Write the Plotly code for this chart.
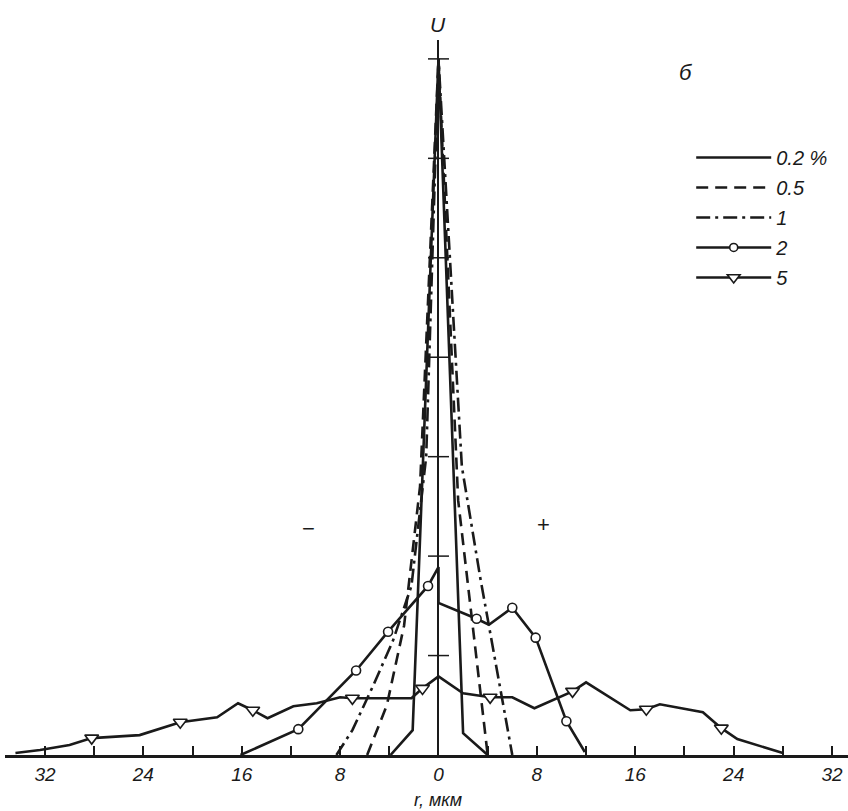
import plotly.graph_objects as go

# ---------------- data ----------------
r_02 = [-3.9, -2.1, 0.0, 2.0, 4.0]
u_02 = [0.0, 0.25, 7.0, 0.22, 0.0]

r_05 = [-5.8, -4.2, -2.8, -1.5, 0.0, 1.6, 4.0]
u_05 = [0.0, 0.5, 1.3, 2.7, 7.0, 2.56, 0.0]

r_1 = [-8.3, -7.0, -5.3, -3.7, -2.2, -1.0, 0.0, 0.9, 1.9, 3.4, 6.0]
u_1 = [0.0, 0.25, 0.7, 1.15, 1.7, 3.0, 7.0, 5.0, 2.9, 1.78, 0.0]

r_2 = [-16.1, -11.4, -6.7, -4.1, -0.85, 0.0, 0.0, 3.1, 4.1, 6.0, 7.9, 10.4, 11.9]
u_2 = [0.0, 0.26, 0.85, 1.24, 1.70, 1.89, 1.53, 1.37, 1.31, 1.48, 1.18, 0.34, 0.03]
mark_2 = [0, 1, 1, 1, 1, 0, 0, 1, 0, 1, 1, 1, 0]

r_5 = [-34.4, -32.4, -30.0, -28.2, -24.3, -21.0, -18.0, -16.3, -15.1, -13.9, -11.8,
       -9.9, -8.0, -7.0, -2.2, -1.3, 0.0, 2.0, 4.2, 6.0, 7.8, 10.9, 12.0, 15.6, 16.9,
       18.0, 21.5, 23.0, 24.3, 28.0]
u_5 = [0.02, 0.05, 0.10, 0.17, 0.20, 0.33, 0.38, 0.52, 0.45, 0.37, 0.49,
       0.52, 0.58, 0.57, 0.57, 0.67, 0.79, 0.62, 0.58, 0.58, 0.47, 0.64, 0.73, 0.45, 0.46,
       0.51, 0.43, 0.27, 0.16, 0.02]
mark_5 = [0, 0, 0, 1, 0, 1, 0, 0, 1, 0, 0,
          0, 0, 1, 0, 1, 0, 0, 1, 0, 0, 1, 0, 0, 1,
          0, 0, 1, 0, 0]

series_names = ["0.2 %", "0.5", "1", "2", "5"]
x_ticks = list(range(-32, 33, 4))
x_ticktext = [str(abs(v)) if v % 8 == 0 else "" for v in x_ticks]
u_ticks = [1, 2, 3, 4, 5, 6, 7]

X_RANGE = [-35.25, 33.3]
Y_RANGE = [0, 7.19]

INK = "#1a1a1a"
FONT = "Liberation Sans Narrow, Liberation Sans, Arial"
LFONT = "Liberation Sans, Arial"
LW = 2.6

fig = go.Figure()

def add_series(x, y, name, dash, symbol=None, marks=None, msize=9, group=None):
    fig.add_trace(go.Scatter(
        x=x, y=y, mode="lines", line=dict(color=INK, width=LW, dash=dash),
        showlegend=False, legendgroup=group, hoverinfo="skip"))
    if symbol is not None:
        mx = [a for a, m in zip(x, marks) if m]
        my = [b for b, m in zip(y, marks) if m]
        fig.add_trace(go.Scatter(
            x=mx, y=my, mode="markers",
            marker=dict(symbol=symbol, size=msize, color="white",
                        line=dict(color=INK, width=1.6)),
            showlegend=False, legendgroup=group, hoverinfo="skip"))
    fig.add_trace(go.Scatter(
        x=[None], y=[None], mode="lines+markers" if symbol else "lines",
        name=name, legendgroup=group,
        line=dict(color=INK, width=LW, dash=dash),
        marker=dict(symbol=symbol or "circle", size=msize - 1, color="white",
                    line=dict(color=INK, width=1.6))))

add_series(r_02, u_02, series_names[0], "solid", group="a")
add_series(r_05, u_05, series_names[1], "12px,7px", group="b")
add_series(r_1, u_1, series_names[2], "14px,5px,3px,5px", group="c")
add_series(r_2, u_2, series_names[3], "solid", "circle", mark_2, 9, group="d")
add_series(r_5, u_5, series_names[4], "solid", "triangle-down", mark_5, 12, group="e")

# tick crosses on the U axis
fig.add_trace(go.Scatter(
    x=[0] * len(u_ticks), y=u_ticks, mode="markers",
    marker=dict(symbol="line-ew", size=15, line=dict(color=INK, width=1.5)),
    showlegend=False, hoverinfo="skip"))

fig.update_layout(
    width=848, height=811,
    margin=dict(l=5, r=0, t=40, b=56),
    paper_bgcolor="white", plot_bgcolor="white",
    showlegend=True,
    legend=dict(x=0.814, y=0.863, xanchor="left", yanchor="top",
                font=dict(family=LFONT, size=20, color=INK, style="italic"),
                bgcolor="rgba(0,0,0,0)", tracegroupgap=1, itemwidth=75),
    xaxis=dict(range=X_RANGE, showgrid=False, zeroline=True, zerolinecolor=INK,
               zerolinewidth=1.5, tickmode="array", tickvals=x_ticks, ticktext=x_ticktext,
               ticks="inside", ticklen=9, tickwidth=1.5, tickcolor=INK,
               showline=True, linecolor=INK, linewidth=2.5,
               tickfont=dict(family=FONT, size=19, color=INK, style="italic")),
    yaxis=dict(range=Y_RANGE, showgrid=False, zeroline=False, showticklabels=False,
               showline=False, ticks=""),
    annotations=[
        dict(text="U", x=0, xref="x", y=1.021, yref="paper", showarrow=False,
             yanchor="middle", xanchor="center",
             font=dict(family=FONT, size=21, color=INK, style="italic")),
        dict(text="б", x=0.808, xref="paper", y=0.955, yref="paper", showarrow=False,
             yanchor="middle", xanchor="center",
             font=dict(family=LFONT, size=22, color=INK, style="italic")),
        dict(text="r, мкм", x=0, xref="x", y=-0.063, yref="paper", showarrow=False,
             yanchor="middle", xanchor="center",
             font=dict(family=FONT, size=18, color=INK, style="italic")),
        dict(text="−", x=-10.6, xref="x", y=2.28, yref="y", showarrow=False,
             yanchor="middle", xanchor="center",
             font=dict(family=FONT, size=22, color=INK)),
        dict(text="+", x=8.5, xref="x", y=2.32, yref="y", showarrow=False,
             yanchor="middle", xanchor="center",
             font=dict(family=FONT, size=22, color=INK)),
    ],
)

fig.write_html("out.html", config={"displayModeBar": False},
               post_script="document.body.style.margin='0px';")
